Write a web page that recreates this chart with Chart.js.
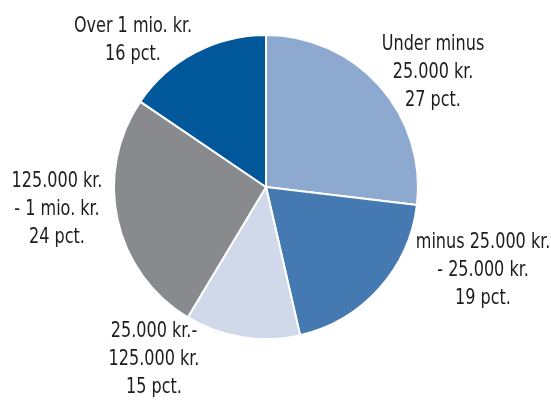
<html>
<head>
  <script src="https://cdn.jsdelivr.net/npm/chart.js@4.4.1/dist/chart.umd.min.js"></script>
  <style>
    html, body { margin: 0; padding: 0; background: #ffffff; }
    #wrap { width: 551px; height: 401px; position: relative; }
  </style>
</head>
<body>
  <div id="wrap"><canvas id="pieChart" width="551" height="401"></canvas></div>

<script>
  const categories = [
    "Under minus 25.000 kr.",
    "minus 25.000 kr. - 25.000 kr.",
    "25.000 kr.- 125.000 kr.",
    "125.000 kr. - 1 mio. kr.",
    "Over 1 mio. kr."
  ];
  const shares = [26.9, 19.5, 12.2, 25.9, 15.5];
  const labelLines = [
    ["Under minus", "25.000 kr.", "27 pct."],
    ["minus 25.000 kr.", "- 25.000 kr.", "19 pct."],
    ["25.000 kr.-", "125.000 kr.", "15 pct."],
    ["125.000 kr.", "- 1 mio. kr.", "24 pct."],
    ["Over 1 mio. kr.", "16 pct."]
  ];
  const colors = ["#8ea9d0", "#4479b2", "#d0d9ea", "#898a8e", "#00589a"];

  // where each text block sits (centre x, first baseline y)
  const labelPos = [
    [433, 50], [483, 248], [154, 337], [57, 187], [133, 32]
  ];

  const textLabels = {
    id: "textLabels",
    afterDraw(chart) {
      const ctx = chart.ctx;
      ctx.save();
      ctx.font = "21.5px 'DejaVu Sans Condensed', 'DejaVu Sans', sans-serif";
      ctx.fillStyle = "#1e1c1d";
      ctx.textAlign = "center";
      ctx.textBaseline = "alphabetic";
      labelLines.forEach((lines, i) => {
        const [x, y] = labelPos[i];
        lines.forEach((line, j) => {
          // squeeze to get the narrow look of the original type
          const w = ctx.measureText(line).width * 0.83;
          ctx.fillText(line, x, y + j * 28, w);
        });
      });
      ctx.restore();
    }
  };

  const ctx = document.getElementById("pieChart").getContext("2d");
  new Chart(ctx, {
    type: "pie",
    data: {
      labels: categories,
      datasets: [{
        data: shares,
        backgroundColor: colors,
        borderColor: "#ffffff",
        borderWidth: 2
      }]
    },
    options: {
      responsive: false,
      animation: false,
      layout: { padding: { top: 34, bottom: 61, left: 112, right: 131 } },
      plugins: {
        legend: { display: false },
        tooltip: { enabled: false }
      }
    },
    plugins: [textLabels]
  });
</script>
</body>
</html>
